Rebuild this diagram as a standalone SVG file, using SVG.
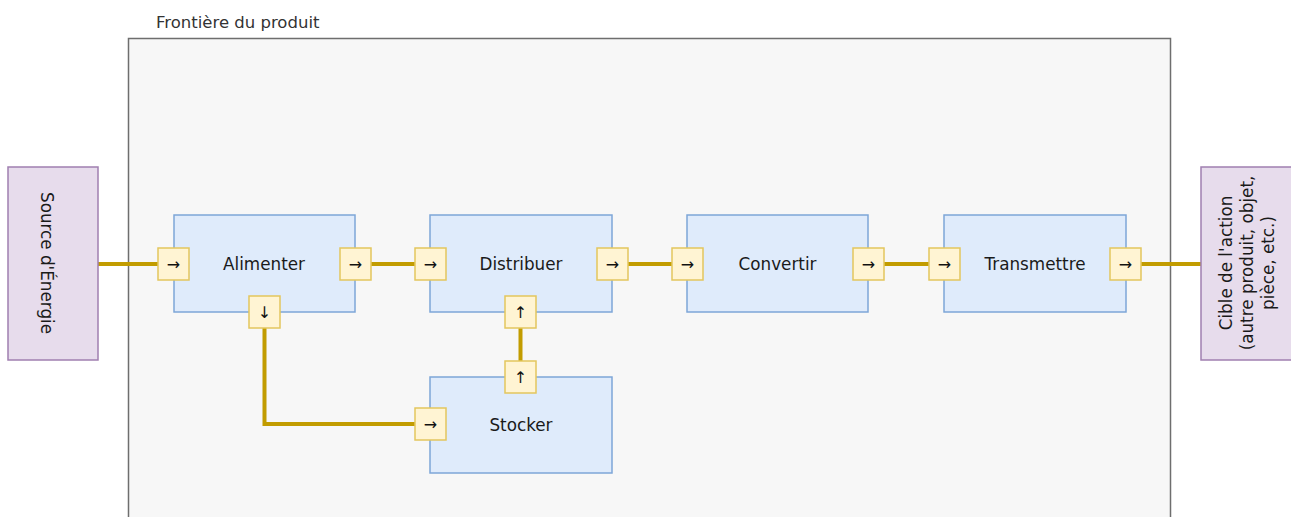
<svg xmlns="http://www.w3.org/2000/svg" width="1291" height="517" viewBox="0 0 1291 517">
<style>
text{font-family:"DejaVu Sans","Open Sans",sans-serif;fill:#1a1a1a;}
.lbl{font-size:16.8px;text-anchor:middle;dominant-baseline:central;}
.fn{fill:#dfebfb;stroke:#7ea6d8;stroke-width:1.5;}
.ext{fill:#e7dcec;stroke:#a07fb0;stroke-width:1.5;}
.port{fill:#fff4d3;stroke:#e3c65e;stroke-width:1.5;}
.pa{font-size:16px;text-anchor:middle;dominant-baseline:central;fill:#111;}
.wire{fill:none;stroke:#c29c00;stroke-width:4;}
</style>
<g id="boundary">
<rect x="128.5" y="38.5" width="1042" height="490" fill="#f7f7f7" stroke="#6e6e6e" stroke-width="1.5"/>
<text x="156" y="22" style="font-size:16.5px;dominant-baseline:central;fill:#333">Frontière du produit</text>
</g>
<g id="connectors">
<line class="wire" x1="98" y1="264" x2="158" y2="264"/>
<line class="wire" x1="370" y1="264" x2="415" y2="264"/>
<line class="wire" x1="628" y1="264" x2="672" y2="264"/>
<line class="wire" x1="884" y1="264" x2="929" y2="264"/>
<line class="wire" x1="1141" y1="264" x2="1201" y2="264"/>
<polyline class="wire" points="264.5,328 264.5,424 415,424"/>
<line class="wire" x1="520.5" y1="328" x2="520.5" y2="361"/>
</g>
<g id="source">
<rect class="ext" x="8" y="167" width="90" height="193"/>
<text class="lbl" transform="translate(47,263) rotate(90)">Source d'Énergie</text>
</g>
<g id="cible">
<rect class="ext" x="1201" y="167" width="95" height="193"/>
<text class="lbl" transform="translate(1247,263) rotate(-90)"><tspan x="0" y="-21">Cible de l'action</tspan><tspan x="0" y="0">(autre produit, objet,</tspan><tspan x="0" y="21">pièce, etc.)</tspan></text>
</g>
<g id="alimenter">
<rect class="fn" x="174" y="215" width="181" height="97"/>
<text class="lbl" x="264" y="264">Alimenter</text>
<rect class="port" x="158" y="248" width="31" height="32"/><text class="pa" x="173.5" y="264">→</text>
<rect class="port" x="340" y="248" width="31" height="32"/><text class="pa" x="355.5" y="264">→</text>
<rect class="port" x="249" y="296" width="31" height="32"/><text class="pa" x="264.5" y="312">↓</text>
</g>
<g id="distribuer">
<rect class="fn" x="430" y="215" width="182" height="97"/>
<text class="lbl" x="521" y="264">Distribuer</text>
<rect class="port" x="415" y="248" width="31" height="32"/><text class="pa" x="430.5" y="264">→</text>
<rect class="port" x="597" y="248" width="31" height="32"/><text class="pa" x="612.5" y="264">→</text>
<rect class="port" x="505" y="296" width="31" height="32"/><text class="pa" x="520.5" y="312">↑</text>
</g>
<g id="convertir">
<rect class="fn" x="687" y="215" width="181" height="97"/>
<text class="lbl" x="777.5" y="264">Convertir</text>
<rect class="port" x="672" y="248" width="31" height="32"/><text class="pa" x="687.5" y="264">→</text>
<rect class="port" x="853" y="248" width="31" height="32"/><text class="pa" x="868.5" y="264">→</text>
</g>
<g id="transmettre">
<rect class="fn" x="944" y="215" width="182" height="97"/>
<text class="lbl" x="1035" y="264">Transmettre</text>
<rect class="port" x="929" y="248" width="31" height="32"/><text class="pa" x="944.5" y="264">→</text>
<rect class="port" x="1110" y="248" width="31" height="32"/><text class="pa" x="1125.5" y="264">→</text>
</g>
<g id="stocker">
<rect class="fn" x="430" y="377" width="182" height="96"/>
<text class="lbl" x="521" y="425">Stocker</text>
<rect class="port" x="505" y="361" width="31" height="32"/><text class="pa" x="520.5" y="377">↑</text>
<rect class="port" x="415" y="408" width="31" height="32"/><text class="pa" x="430.5" y="424">→</text>
</g>
</svg>
